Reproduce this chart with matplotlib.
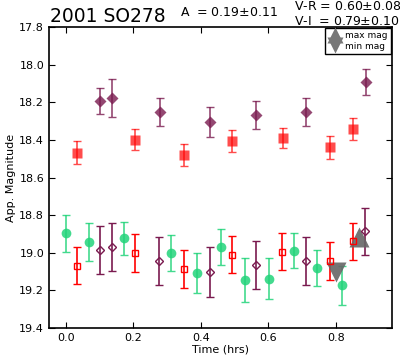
import numpy as np
import matplotlib
matplotlib.use("Agg")
import matplotlib.pyplot as plt
from matplotlib.lines import Line2D

# R band (bright set, filled squares)
r_t = [0.034, 0.205, 0.349, 0.492, 0.644, 0.782, 0.852]
r_mag = [18.467, 18.40, 18.48, 18.405, 18.39, 18.44, 18.34]
r_err = [0.062, 0.056, 0.058, 0.06, 0.055, 0.059, 0.059]

# I band (bright set, filled diamonds)
i_t = [0.102, 0.138, 0.279, 0.426, 0.565, 0.713, 0.889]
i_mag = [18.193, 18.178, 18.251, 18.304, 18.268, 18.251, 18.092]
i_err = [0.07, 0.10, 0.075, 0.08, 0.073, 0.074, 0.068]

# V band (green circles)
v_t = [0.0, 0.069, 0.173, 0.312, 0.388, 0.461, 0.532, 0.602, 0.676, 0.746, 0.82]
v_mag = [18.897, 18.944, 18.923, 19.0, 19.107, 18.97, 19.147, 19.138, 18.988, 19.08, 19.174]
v_err = [0.097, 0.10, 0.088, 0.097, 0.107, 0.095, 0.117, 0.11, 0.092, 0.095, 0.106]

# R shifted to V (open squares)
rv_t = [0.034, 0.205, 0.349, 0.492, 0.642, 0.782, 0.852]
rv_mag = [19.068, 19.0, 19.085, 19.01, 18.994, 19.045, 18.94]
rv_err = [0.10, 0.10, 0.10, 0.10, 0.099, 0.10, 0.10]

# I shifted to V (open diamonds)
iv_t = [0.102, 0.137, 0.277, 0.426, 0.565, 0.711, 0.886]
iv_mag = [18.983, 18.971, 19.045, 19.10, 19.063, 19.045, 18.886]
iv_err = [0.128, 0.128, 0.128, 0.133, 0.128, 0.128, 0.124]

max_t, max_mag = 0.87, 18.918
min_t, min_mag = 0.80, 19.103

purple = '#7a1a4f'
green = '#22d47a'

fig = plt.figure(figsize=(4.0, 3.62), dpi=100)
ax = fig.add_axes([0.1225, 0.094, 0.8575, 0.831])

ax.errorbar(r_t, r_mag, yerr=r_err, fmt='s', color='red', ms=6.5, mec='none',
            alpha=0.7, ecolor='red', elinewidth=1.2, capsize=3)
ax.errorbar(i_t, i_mag, yerr=i_err, fmt='D', color=purple, ms=6.5, mec='none',
            alpha=0.8, ecolor=purple, elinewidth=1.2, capsize=3)
ax.errorbar(v_t, v_mag, yerr=v_err, fmt='o', color=green, ms=7, mec='none',
            alpha=0.85, ecolor=green, elinewidth=1.2, capsize=3)
ax.errorbar(rv_t, rv_mag, yerr=rv_err, fmt='s', color='red', ms=4, mfc='none',
            mec='red', ecolor='red', elinewidth=1.2, capsize=3)
ax.errorbar(iv_t, iv_mag, yerr=iv_err, fmt='D', color=purple, ms=4, mfc='none',
            mec=purple, ecolor=purple, elinewidth=1.2, capsize=3)

ax.plot(max_t, max_mag, '^', color='#666666', ms=15, alpha=0.9, mec='none')
ax.plot(min_t, min_mag, 'v', color='#666666', ms=15, alpha=0.9, mec='none')

ax.set_xlim(-0.05, 0.967)
ax.set_ylim(19.4, 17.8)
ax.set_xticks([0.0, 0.2, 0.4, 0.6, 0.8])
ax.set_yticks(np.arange(17.8, 19.41, 0.2))
ax.tick_params(direction='in', top=True, right=True, labelsize=8, length=4)
ax.set_xlabel('Time (hrs)', fontsize=8, labelpad=1)
ax.set_ylabel('App. Magnitude', fontsize=8, labelpad=2)
for s in ax.spines.values():
    s.set_linewidth(1.2)

handles = [Line2D([], [], marker='^', color='#777777', ls='none', ms=11, mec='none'),
           Line2D([], [], marker='v', color='#777777', ls='none', ms=11, mec='none')]
leg = ax.legend(handles, ['max mag', 'min mag'], loc='upper right', fontsize=6.5,
                handletextpad=0.5, borderpad=0.35, labelspacing=0.15, fancybox=False,
                framealpha=1, edgecolor='black', handlelength=1.4, borderaxespad=0.1)

fig.text(0.125, 0.94, '2001 SO278', fontsize=13.5)
fig.text(0.45, 0.955, 'A  = 0.19$\\pm$0.11', fontsize=9)
fig.text(0.735, 0.973, 'V-R = 0.60$\\pm$0.08', fontsize=9)
fig.text(0.735, 0.93, 'V-I  = 0.79$\\pm$0.10', fontsize=9)

fig.savefig('out.png', dpi=100)
